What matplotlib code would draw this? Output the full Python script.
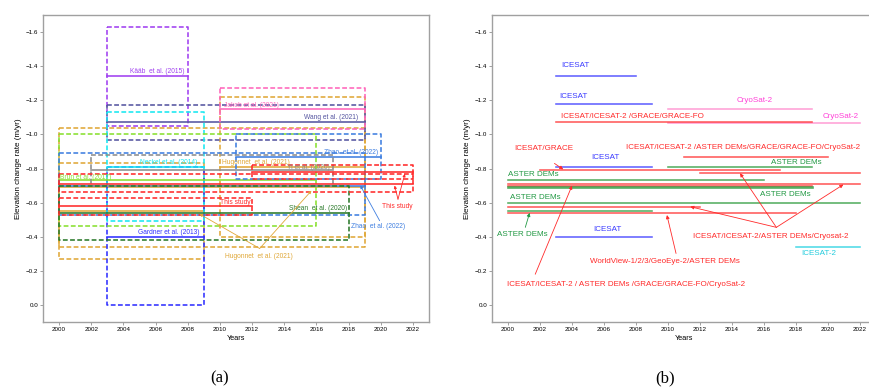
import numpy as np
import matplotlib.pyplot as plt

plt.rcParams["font.family"] = ["Liberation Sans", "DejaVu Sans"]

# ---- (a) published estimates: period, mean rate and uncertainty range (m/yr)
study = ["Hugonnet", "Hugonnet", "Hugonnet", "Gardner", "Kaab", "Wang", "Jakob",
         "Neckel", "Brun", "Zhao", "Zhao", "Yi", "Shean", "This", "This", "This"]
start = [2010, 2000, 2000, 2003, 2003, 2003, 2010, 2003, 2000, 2000, 2011, 2002,
         2000, 2012, 2000, 2000]
end = [2019, 2019, 2009, 2009, 2008, 2019, 2019, 2009, 2016, 2019, 2020, 2017,
       2018, 2022, 2022, 2012]
rate = [-0.81, -0.69, -0.55, -0.40, -1.34, -1.07, -1.15, -0.81, -0.73, -0.70,
        -0.867, -0.79, -0.54, -0.78, -0.71, -0.58]
rate_low = [-1.22, -1.04, -0.83, -0.81, -1.63, -1.17, -1.27, -1.13, -1.00, -0.89,
            -1.00, -0.88, -0.70, -0.82, -0.765, -0.63]
rate_high = [-0.40, -0.34, -0.27, 0.0, -1.05, -0.97, -1.03, -0.49, -0.46, -0.53,
             -0.74, -0.70, -0.38, -0.74, -0.66, -0.53]

# ---- (b) same periods coloured by data source
src_kind = ["icesat", "icesat", "cryosat", "cryosat", "multi", "multi", "aster",
            "icesat", "multi", "multi", "aster", "multi", "multi", "aster", "aster",
            "multi", "aster", "multi", "icesat", "icesat2"]
src_start = [2003, 2003, 2010, 2010, 2003, 2011, 2010, 2003, 2002, 2012, 2000,
             2000, 2000, 2000, 2000, 2000, 2000, 2000, 2003, 2018]
src_end = [2008, 2009, 2019, 2022, 2019, 2020, 2019, 2009, 2017, 2022, 2016,
           2022, 2019, 2019, 2022, 2012, 2009, 2018, 2009, 2022]
src_rate = [-1.34, -1.18, -1.15, -1.067, -1.07, -0.87, -0.81, -0.81, -0.79, -0.776,
            -0.73, -0.71, -0.70, -0.69, -0.60, -0.577, -0.55, -0.54, -0.397, -0.339]

colors = {
    "Kaab": "#a040f0", "Wang": "#5555a0", "Jakob": "#ff66bb", "Hugonnet": "#e0a838",
    "Neckel": "#18e8f0", "Brun": "#88e030", "Zhao": "#3f7fe0", "Yi": "#8c8c8c",
    "This": "#ff2a2a", "Shean": "#2a7a2a", "Gardner": "#3030ff",
    "icesat": "#3a3aff", "cryosat": "#ff88cc", "multi": "#ff3030",
    "aster": "#2a9a3a", "icesat2": "#22d0e0",
}

fig = plt.figure(figsize=(8.69, 3.9), dpi=100)
ax1 = fig.add_axes([0.0495, 0.1744, 0.4442, 0.787])
ax2 = fig.add_axes([0.5662, 0.1744, 0.4419, 0.787])

for ax in (ax1, ax2):
    ax.set_xlim(1999, 2023)
    ax.set_ylim(0.1, -1.7)
    ax.set_xticks(np.arange(2000, 2023, 2))
    ax.set_yticks(np.round(np.arange(-1.6, 0.01, 0.2), 1))
    ax.tick_params(labelsize=4.5, length=2, width=0.6, color="#909090", pad=1.5)
    for s in ax.spines.values():
        s.set_color("#a0a0a0")
        s.set_linewidth(1.0)
    ax.set_xlabel("Years", fontsize=5.2, labelpad=2)
    ax.set_ylabel("Elevation change rate (m/yr)", fontsize=5.8, labelpad=3)

# (a) boxes and mean lines
for k, x0, x1, m, lo, hi in zip(study, start, end, rate, rate_low, rate_high):
    c = colors[k]
    ax1.plot([x0, x1, x1, x0, x0], [lo, lo, hi, hi, lo], color=c, lw=1.15,
             ls=(0, (3, 1.5)))
    ax1.plot([x0, x1], [m, m], color=c, lw=1.15)

fs_a = 4.8
labels_a = [
    ("Kääb  et al. (2015)", 2007.8, -1.37, "right", "Kaab"),
    ("Jakob et al. (2021)", 2010.25, -1.17, "left", "Jakob"),
    ("Wang et al. (2021)", 2018.6, -1.098, "right", "Wang"),
    ("Neckel et al. (2014)", 2008.6, -0.837, "right", "Neckel"),
    ("Hugonnet  et al. (2021)", 2010.1, -0.834, "left", "Hugonnet"),
    ("Yi et al. (2020)", 2016.85, -0.804, "right", "Yi"),
    ("Zhao  et al. (2022)", 2019.85, -0.892, "right", "Zhao"),
    ("Brun et al. (2017)", 2000.05, -0.75, "left", "Brun"),
    ("This study", 2010.0, -0.60, "left", "This"),
    ("Shean  et al. (2020)", 2017.9, -0.567, "right", "Shean"),
    ("Gardner et al. (2013)", 2008.7, -0.422, "right", "Gardner"),
]
for txt, x, y, ha, k in labels_a:
    ax1.text(x, y, txt, fontsize=fs_a, color=colors[k], ha=ha, va="center")

# (a) annotations with arrows
notes_a = [
    ("Hugonnet  et al. (2021)", (2012.45, -0.284), (2012.47, -0.331),
     [(2008.74, -0.533), (2015.69, -0.67)], "Hugonnet"),
    ("Zhao  et al. (2022)", (2019.85, -0.459), (2019.93, -0.494),
     [(2018.73, -0.70)], "Zhao"),
    ("This study", (2021.03, -0.578), (2021.07, -0.62),
     [(2020.86, -0.70), (2021.5, -0.769)], "This"),
]
for txt, pos, base, tips, k in notes_a:
    c = colors[k]
    ax1.text(pos[0], pos[1], txt, fontsize=fs_a, color=c, ha="center", va="center")
    for tip in tips:
        ax1.annotate("", xy=tip, xytext=base,
                     arrowprops=dict(arrowstyle="-|>", color=c, lw=0.6,
                                     mutation_scale=4, shrinkA=0, shrinkB=0))

# (b) lines by data source
for k, x0, x1, y in zip(src_kind, src_start, src_end, src_rate):
    lw = 1.9 if (k == "aster" and x1 == 2019 and x0 == 2000) else 1.15
    ax2.plot([x0, x1], [y, y], color=colors[k], lw=lw, alpha=0.8)

fs_b = 5.8
text_col = {"icesat": "#3a3aff", "cryosat": "#ff40d8", "multi": "#ff2a2a",
            "aster": "#229944", "icesat2": "#22ccdd"}
labels_b = [
    ("ICESAT", 2003.3, -1.404, "left", "icesat"),
    ("ICESAT", 2003.2, -1.224, "left", "icesat"),
    ("CryoSat-2", 2015.4, -1.20, "center", "cryosat"),
    ("ICESAT/ICESAT-2 /GRACE/GRACE-FO", 2003.3, -1.106, "left", "multi"),
    ("CryoSat-2", 2021.95, -1.106, "right", "cryosat"),
    ("ICESAT/ICESAT-2 /ASTER DEMs/GRACE/GRACE-FO/CryoSat-2", 2007.4, -0.925,
     "left", "multi"),
    ("ICESAT", 2006.1, -0.867, "center", "icesat"),
    ("ASTER DEMs", 2019.6, -0.834, "right", "aster"),
    ("ASTER DEMs", 2000.0, -0.763, "left", "aster"),
    ("ASTER DEMs", 2000.1, -0.631, "left", "aster"),
    ("ASTER DEMs", 2018.9, -0.645, "right", "aster"),
    ("ICESAT", 2006.2, -0.441, "center", "icesat"),
    ("ICESAT-2", 2019.4, -0.302, "center", "icesat2"),
]
for txt, x, y, ha, k in labels_b:
    ax2.text(x, y, txt, fontsize=fs_b, color=text_col[k], ha=ha, va="center")

notes_b = [
    ("ICESAT/GRACE", (2000.4, -0.916), "left", (2002.9, -0.83),
     [(2003.45, -0.795)], "multi"),
    ("ASTER DEMs", (1999.3, -0.412), "left", (2001.08, -0.455),
     [(2001.35, -0.54)], "aster"),
    ("ICESAT/ICESAT-2/ASTER DEMs/Cryosat-2", (2016.4, -0.404), "center",
     (2016.77, -0.455), [(2014.5, -0.772), (2011.39, -0.576), (2020.96, -0.706)],
     "multi"),
    ("WorldView-1/2/3/GeoEye-2/ASTER DEMs", (2005.1, -0.253), "left",
     (2010.5, -0.302), [(2009.93, -0.527)], "multi"),
    ("ICESAT/ICESAT-2 / ASTER DEMs /GRACE/GRACE-FO/CryoSat-2", (1999.94, -0.122),
     "left", (2001.7, -0.18), [(2004.0, -0.70)], "multi"),
]
for txt, pos, ha, base, tips, k in notes_b:
    c = text_col[k]
    ax2.text(pos[0], pos[1], txt, fontsize=fs_b, color=c, ha=ha, va="center")
    for tip in tips:
        ax2.annotate("", xy=tip, xytext=base,
                     arrowprops=dict(arrowstyle="-|>", color=c, lw=0.6,
                                     mutation_scale=5, shrinkA=0, shrinkB=0))

fig.text(0.253, 0.031, "(a)", fontsize=12, family="Liberation Serif",
         ha="center", va="center")
fig.text(0.765, 0.031, "(b)", fontsize=12, family="Liberation Serif",
         ha="center", va="center")

plt.savefig("out.png", dpi=100)
